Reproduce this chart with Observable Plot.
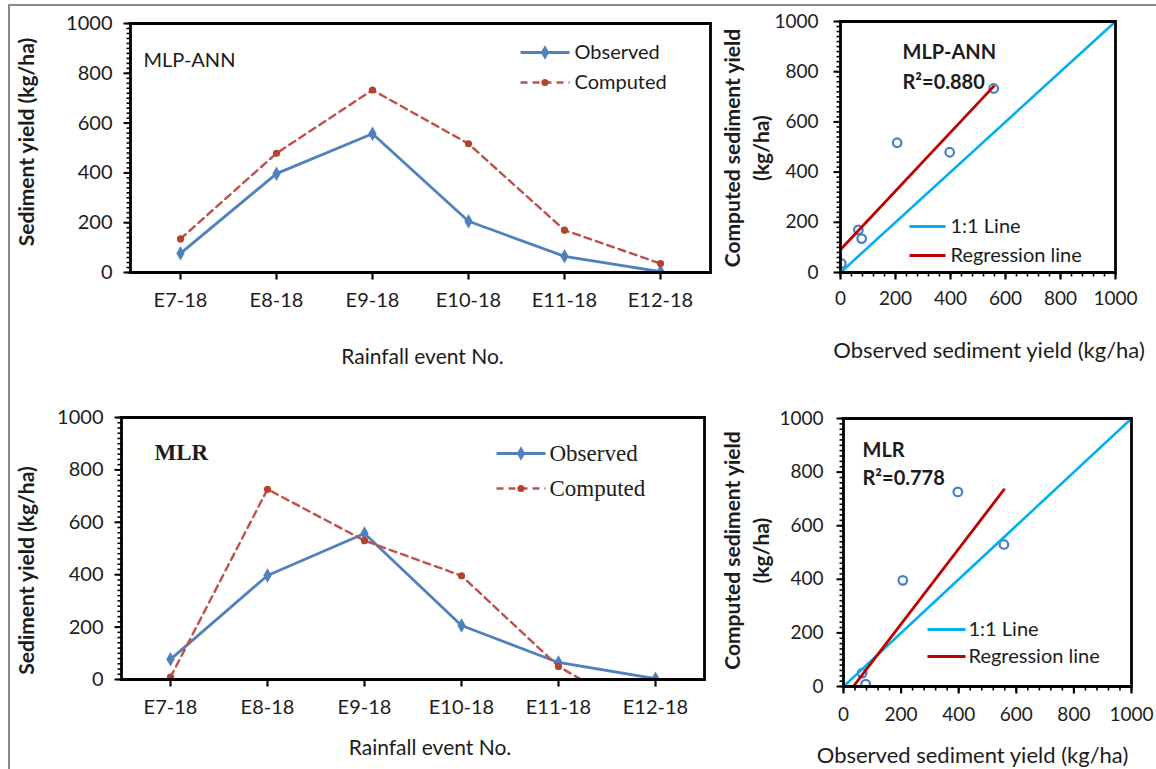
<!DOCTYPE html>
<html><head><meta charset="utf-8">
<script src="https://cdn.jsdelivr.net/npm/d3@7"></script>
<script src="https://cdn.jsdelivr.net/npm/@observablehq/plot@0.6"></script>
<style>
html,body{margin:0;padding:0;background:#fff;}
#wrap{position:relative;width:1156px;height:769px;overflow:hidden;background:#fff;}
.panel{position:absolute;}
.rule{position:absolute;background:#8a8a8a;}
</style></head><body><div id="wrap"></div>
<script>
// ---- data ----
const events = ["E7-18", "E8-18", "E9-18", "E10-18", "E11-18", "E12-18"];
const observed = [77, 397, 557, 206, 65, 3];
const computedANN = [135, 479, 733, 517, 170, 36];
const computedMLR = [9, 726, 530, 396, 50, -165];
const yTicks = [0, 200, 400, 600, 800, 1000];
const oneToOne = [0, 1000];
const modelANN = "MLP-ANN";
const modelMLR = "MLR";
const r2ANN = "R²=0.880";
const r2MLR = "R²=0.778";
const seriesLabels = ["Observed", "Computed"];
const scatterLabels = ["1:1 Line", "Regression line"];
const lineTitleY = "Sediment yield (kg/ha)";
const lineTitleX = "Rainfall event No.";
const scatTitleY1 = "Computed sediment yield";
const scatTitleY2 = "(kg/ha)";
const scatTitleX = "Observed sediment yield (kg/ha)";

// ---- style ----
const SANS = "Lato, 'Open Sans', sans-serif";
const SERIF = "'Liberation Serif', 'DejaVu Serif', serif";
const TXT = "#1c1c1c";
const C_OBS = "#4F81BD", C_COMP = "#C0504D", C_COMP_M = "#B4432C";
const C_PT = "#4A7EC2", C_11 = "#00B0F0", C_REG = "#C00000";
const fmt = d3.format("d");

const wrap = document.getElementById("wrap");
function place(node, left, top) {
  const d = document.createElement("div");
  d.className = "panel";
  d.style.left = left + "px"; d.style.top = top + "px";
  d.appendChild(node);
  wrap.appendChild(d);
}

// custom symbols
const hline = w => ({draw(ctx) { ctx.moveTo(-w / 2, 0); ctx.lineTo(w / 2, 0); }});
const symLeft = len => ({draw(ctx) { ctx.moveTo(0, 0); ctx.lineTo(-len, 0); }});
const symDown = len => ({draw(ctx) { ctx.moveTo(0, 0); ctx.lineTo(0, len); }});
const symRect = (w, h) => ({draw(ctx) { ctx.rect(-w / 2, -h / 2, w, h); }});

// frame + tick marks drawn as dots (positions come from the scales)
function frameMarks(o, xMajor, xMinor) {
  const fw = o.width - o.ml - o.mr, fh = o.height - o.mt - o.mb;
  const base = {r: 1, fill: "none", stroke: "black"};
  const marks = [
    Plot.dot(d3.range(0, 1001, 20), {...base, y: d => d, frameAnchor: "left", symbol: symLeft(4), strokeWidth: 1.6}),
    Plot.dot(yTicks, {...base, y: d => d, frameAnchor: "left", symbol: symLeft(7), strokeWidth: 2}),
    Plot.dot(xMajor, {...base, x: d => d, frameAnchor: "bottom", symbol: symDown(7), strokeWidth: 2.2})
  ];
  if (xMinor) marks.push(Plot.dot(xMinor, {...base, x: d => d, frameAnchor: "bottom", symbol: symDown(4), strokeWidth: 1.6}));
  marks.push(Plot.dot(["frame"], {...base, frameAnchor: "middle", symbol: symRect(fw, fh), strokeWidth: 2.8}));
  return marks;
}

function legendMarks(L) {
  const marks = [];
  L.items.forEach((it, i) => {
    const dy = L.dys[i];
    const sw = {frameAnchor: "top-left", dx: L.cx, dy, symbol: hline(L.w), r: 1, fill: "none", stroke: it.stroke, strokeWidth: it.width || 2.8};
    if (it.dash) sw.strokeDasharray = it.dash;
    marks.push(Plot.dot([it.label], sw));
    if (it.marker) marks.push(Plot.dot([it.label], {frameAnchor: "top-left", dx: L.cx, dy, symbol: it.marker,
      r: it.marker === "diamond" ? 4.4 : 3.6, fill: it.mfill}));
    marks.push(Plot.text([it.label], {frameAnchor: "top-left", text: d => d, dx: L.tx, dy, textAnchor: "start", lineAnchor: "middle",
      fontFamily: L.font, fontSize: L.size, fill: TXT}));
  });
  return marks;
}
const lineItems = [
  {label: seriesLabels[0], stroke: C_OBS, marker: "diamond", mfill: C_OBS},
  {label: seriesLabels[1], stroke: C_COMP, dash: "7,5", width: 2.4, marker: "circle", mfill: C_COMP_M}
];
const scatItems = [
  {label: scatterLabels[0], stroke: C_11, width: 3},
  {label: scatterLabels[1], stroke: C_REG, width: 3}
];

function linePanel(o) {
  return Plot.plot({
    width: o.width, height: o.height,
    marginLeft: o.ml, marginRight: o.mr, marginTop: o.mt, marginBottom: o.mb,
    style: {fontFamily: SANS, fontSize: "20px", color: TXT, background: "transparent", overflow: "visible"},
    x: {type: "point", domain: events, padding: 0.5},
    y: {domain: [0, 1000]},
    marks: [
      Plot.axisY({ticks: yTicks, tickSize: 0, tickPadding: 18, tickFormat: fmt, label: null, fontSize: 20, fill: TXT}),
      Plot.axisX({tickSize: 0, tickPadding: 20, label: null, fontSize: 20, fill: TXT}),
      Plot.line(events, {x: events, y: observed, stroke: C_OBS, strokeWidth: 2.8, clip: true}),
      Plot.dot(events, {x: events, y: observed, symbol: "diamond", r: 4.4, fill: C_OBS, clip: true}),
      Plot.line(events, {x: events, y: o.computed, stroke: C_COMP, strokeWidth: 2.4, strokeDasharray: "7,5", clip: true}),
      Plot.dot(events, {x: events, y: o.computed, r: 3.6, fill: C_COMP_M, clip: true}),
      ...frameMarks(o, events, null),
      Plot.text([o.model], {frameAnchor: "top-left", text: d => d, dx: o.modelDx, dy: o.modelDy, textAnchor: "start", lineAnchor: "middle",
        fontFamily: o.modelFont, fontSize: o.modelSize, fontWeight: o.modelWeight, fill: TXT}),
      Plot.text([lineTitleY], {frameAnchor: "left", text: d => d, rotate: -90, dx: o.ytDx, dy: o.ytDy, textAnchor: "middle", lineAnchor: "middle",
        fontWeight: "bold", fontSize: 21, fill: TXT}),
      Plot.text([lineTitleX], {frameAnchor: "bottom", text: d => d, dx: o.xtDx, dy: o.xtDy, textAnchor: "middle", lineAnchor: "middle",
        fontSize: 21, fill: TXT}),
      ...legendMarks(o.legend)
    ]
  });
}

function scatterPanel(o) {
  return Plot.plot({
    width: o.width, height: o.height,
    marginLeft: o.ml, marginRight: o.mr, marginTop: o.mt, marginBottom: o.mb,
    style: {fontFamily: SANS, fontSize: "19px", color: TXT, background: "transparent", overflow: "visible"},
    x: {domain: [0, 1000]},
    y: {domain: [0, 1000]},
    marks: [
      Plot.axisY({ticks: yTicks, tickSize: 0, tickPadding: o.ytp + 7, tickFormat: fmt, label: null, fontSize: 19, fill: TXT}),
      Plot.axisX({ticks: yTicks, tickSize: 0, tickPadding: o.xtp + 7, tickFormat: fmt, label: null, fontSize: 19, fill: TXT}),
      Plot.dot(events, {x: observed, y: o.computed, r: 4.3, stroke: C_PT, strokeWidth: 2.2, fill: "none", clip: true}),
      Plot.line(oneToOne, {x: d => d, y: d => d, stroke: C_11, strokeWidth: 2.6, clip: true}),
      Plot.linearRegressionY(events, {x: observed, y: o.computed, ci: 0, stroke: C_REG, strokeWidth: 2.8, clip: true}),
      ...frameMarks(o, yTicks, d3.range(0, 1001, 40)),
      Plot.text([o.model], {frameAnchor: "top-left", text: d => d, dx: o.tDx, dy: o.tDy1, textAnchor: "start", lineAnchor: "middle",
        fontWeight: "bold", fontSize: 20, fill: TXT}),
      Plot.text([o.r2], {frameAnchor: "top-left", text: d => d, dx: o.tDx, dy: o.tDy2, textAnchor: "start", lineAnchor: "middle",
        fontWeight: "bold", fontSize: 20, fill: TXT}),
      Plot.text([scatTitleY1], {frameAnchor: "left", text: d => d, rotate: -90, dx: o.yt1Dx, dy: o.ytDy, textAnchor: "middle", lineAnchor: "middle",
        fontWeight: "bold", fontSize: 21, fill: TXT}),
      Plot.text([scatTitleY2], {frameAnchor: "left", text: d => d, rotate: -90, dx: o.yt2Dx, dy: o.ytDy, textAnchor: "middle", lineAnchor: "middle",
        fontWeight: "bold", fontSize: 21, fill: TXT}),
      Plot.text([scatTitleX], {frameAnchor: "bottom", text: d => d, dx: o.xtDx, dy: o.xtDy, textAnchor: "middle", lineAnchor: "middle",
        fontSize: 22, fill: TXT}),
      ...legendMarks(o.legend)
    ]
  });
}

// top-left: frame x 130..710, y 23..272
place(linePanel({width: 720, height: 380, ml: 130, mr: 10, mt: 23, mb: 108,
  computed: computedANN, model: modelANN, modelDx: 13, modelDy: 37, modelFont: SANS, modelSize: 20, modelWeight: "normal",
  ytDx: -103, ytDy: -6, xtDx: 2, xtDy: 85,
  legend: {items: lineItems, cx: 414.5, w: 49, tx: 444, dys: [29, 59], font: SANS, size: 20}}), 0, 0);

// bottom-left: frame x 121..704, y 417..679
place(linePanel({width: 720, height: 389, ml: 121, mr: 16, mt: 37, mb: 90,
  computed: computedMLR, model: modelMLR, modelDx: 33, modelDy: 35, modelFont: SERIF, modelSize: 23, modelWeight: "bold",
  ytDx: -94, ytDy: 22, xtDx: 17, xtDy: 69,
  legend: {items: lineItems, cx: 399.5, w: 49, tx: 428, dys: [36, 71], font: SERIF, size: 23}}), 0, 380);

// top-right: frame x 840..1115, y 21..272
place(scatterPanel({width: 436, height: 380, ml: 120, mr: 41, mt: 21, mb: 108,
  computed: computedANN, model: modelANN, r2: r2ANN, tDx: 62, tDy1: 31, tDy2: 61, ytp: 15, xtp: 12,
  yt1Dx: -107, yt2Dx: -78, ytDy: 1, xtDx: 11, xtDy: 78,
  legend: {items: scatItems, cx: 87, w: 36, tx: 110, dys: [205, 234], font: SANS, size: 20}}), 720, 0);

// bottom-right: frame x 843..1131, y 418..686
place(scatterPanel({width: 436, height: 389, ml: 123, mr: 25, mt: 38, mb: 83,
  computed: computedMLR, model: modelMLR, r2: r2MLR, tDx: 19, tDy1: 32, tDy2: 60, ytp: 13, xtp: 14,
  yt1Dx: -110, yt2Dx: -81, ytDy: -2, xtDx: -15, xtDy: 69,
  legend: {items: scatItems, cx: 103, w: 38, tx: 125, dys: [211, 238], font: SANS, size: 20}}), 720, 380);

// thin page border lines (top and left)
[["8px", "4px", "1148px", "1.5px"], ["8px", "4px", "1.5px", "765px"]].forEach(([l, t, w, h]) => {
  const r = document.createElement("div");
  r.className = "rule";
  r.style.left = l; r.style.top = t; r.style.width = w; r.style.height = h;
  wrap.appendChild(r);
});
</script></body></html>
